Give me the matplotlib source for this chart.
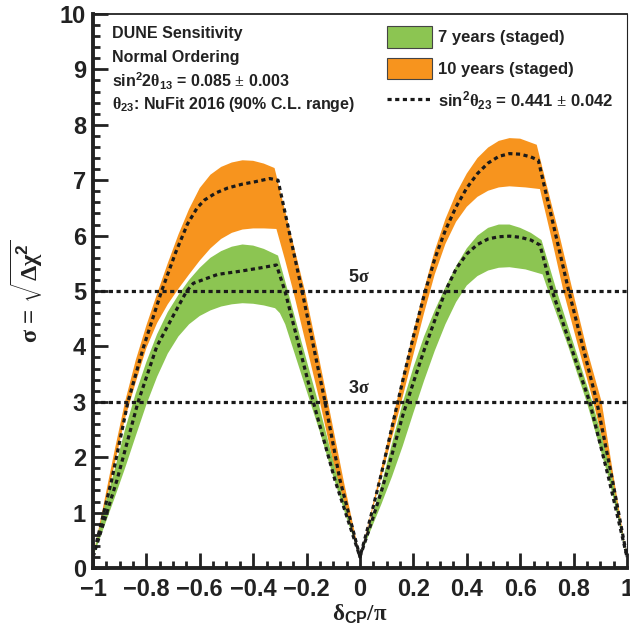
import matplotlib
matplotlib.use('Agg')
import matplotlib.pyplot as plt
from matplotlib.patches import Patch
from matplotlib.lines import Line2D
from matplotlib.ticker import MultipleLocator, FixedLocator

plt.rcParams['font.family'] = ['Liberation Sans', 'DejaVu Sans']
plt.rcParams['font.weight'] = 'bold'
plt.rcParams['mathtext.fontset'] = 'custom'
plt.rcParams['mathtext.rm'] = 'Liberation Sans:bold'
plt.rcParams['mathtext.bf'] = 'Liberation Sans:bold'
plt.rcParams['mathtext.it'] = 'Liberation Sans:bold'
plt.rcParams['mathtext.sf'] = 'Liberation Serif'
plt.rcParams['mathtext.default'] = 'rm'

# 10 years (staged): upper edge of band
x_10_hi = [-1.0, -0.96, -0.92, -0.88, -0.84, -0.80, -0.76, -0.72, -0.68, -0.64, -0.60, -0.56,
           -0.52, -0.48, -0.44, -0.40, -0.36, -0.32,
           -0.26, -0.206, -0.16, -0.12, -0.06, 0.0,
           0.04, 0.08, 0.12, 0.16, 0.20, 0.24, 0.28, 0.32, 0.36, 0.40, 0.44, 0.48, 0.52,
           0.56, 0.60, 0.662,
           0.70, 0.75, 0.797, 0.85, 0.905, 0.95, 1.0]
s_10_hi = [0.2, 1.15, 2.1, 3.0, 3.75, 4.38, 4.95, 5.5, 6.02, 6.48, 6.86, 7.1,
           7.24, 7.32, 7.36, 7.35, 7.3, 7.22,
           6.05, 5.0, 3.95, 3.0, 1.55, 0.2,
           0.98, 1.8, 2.64, 3.47, 4.27, 5.03, 5.73, 6.3, 6.76, 7.12, 7.4, 7.59, 7.71,
           7.76, 7.75, 7.64,
           6.9, 5.95, 5.0, 3.95, 3.0, 1.65, 0.2]
# 10 years (staged): lower edge of band
x_10_lo = [-1.0, -0.96, -0.92, -0.88, -0.84, -0.80, -0.76, -0.72, -0.68, -0.64, -0.60, -0.56,
           -0.52, -0.48, -0.44, -0.40, -0.36, -0.313,
           -0.28, -0.25, -0.20, -0.15, -0.10, -0.05, 0.0,
           0.05, 0.10, 0.15, 0.20, 0.24, 0.28, 0.32, 0.36, 0.40, 0.44, 0.48, 0.52, 0.56,
           0.62, 0.674,
           0.72, 0.762, 0.82, 0.874, 0.94, 1.0]
s_10_lo = [0.2, 1.0, 1.85, 2.7, 3.35, 3.97, 4.42, 4.76, 5.04, 5.3, 5.55, 5.77,
           5.94, 6.05, 6.11, 6.13, 6.13, 6.12,
           5.55, 5.0, 4.0, 3.0, 1.9, 0.95, 0.2,
           1.1, 2.0, 2.9, 3.85, 4.6, 5.3, 5.85, 6.25, 6.52, 6.7, 6.81, 6.87, 6.89,
           6.87, 6.84,
           5.9, 5.0, 3.95, 3.0, 1.65, 0.2]

# 7 years (staged): upper edge of band
x_7_hi = [-1.0, -0.96, -0.92, -0.88, -0.84, -0.80, -0.76, -0.72, -0.68, -0.64, -0.60, -0.56,
          -0.52, -0.48, -0.44, -0.40, -0.36, -0.307,
          -0.27, -0.22, -0.157, -0.082, 0.0,
          0.04, 0.08, 0.12, 0.16, 0.20, 0.24, 0.28, 0.32, 0.36, 0.40, 0.44, 0.48, 0.52,
          0.56, 0.60, 0.64, 0.68,
          0.737, 0.80, 0.87, 0.94, 1.0]
s_7_hi = [0.2, 1.05, 1.75, 2.5, 3.15, 3.72, 4.22, 4.62, 4.93, 5.2, 5.42, 5.6,
          5.72, 5.8, 5.84, 5.82, 5.76, 5.64,
          5.0, 4.1, 3.0, 1.59, 0.2,
          0.85, 1.5, 2.25, 2.98, 3.62, 4.18, 4.65, 5.07, 5.45, 5.77, 6.0, 6.14, 6.2,
          6.2, 6.14, 6.05, 5.92,
          5.0, 4.05, 3.0, 1.75, 0.2]
# 7 years (staged): lower edge of band
x_7_lo = [-1.0, -0.96, -0.92, -0.88, -0.84, -0.80, -0.76, -0.72, -0.68, -0.64, -0.60, -0.56,
          -0.52, -0.48, -0.44, -0.40, -0.36, -0.318,
          -0.30, -0.28, -0.25, -0.20, -0.15, -0.10, -0.05, 0.0,
          0.04, 0.08, 0.12, 0.16, 0.20, 0.24, 0.28, 0.32, 0.36, 0.40, 0.44, 0.48, 0.52,
          0.56, 0.62, 0.684,
          0.705, 0.78, 0.849, 0.93, 1.0]
s_7_lo = [0.2, 0.72, 1.25, 1.8, 2.38, 2.95, 3.45, 3.87, 4.18, 4.4, 4.55, 4.65,
          4.72, 4.76, 4.78, 4.77, 4.74, 4.69,
          4.6, 4.4, 3.95, 3.2, 2.45, 1.65, 0.9, 0.2,
          0.68, 1.15, 1.65, 2.2, 2.8, 3.38, 3.92, 4.4, 4.8, 5.1, 5.27, 5.37, 5.42,
          5.43, 5.39, 5.30,
          5.0, 4.0, 3.0, 1.65, 0.2]

# central value curves, sin^2(theta23) = 0.441
x_10_c = [-1.0, -0.93, -0.869, -0.81, -0.743, -0.69, -0.646, -0.61, -0.583, -0.54, -0.495,
          -0.44, -0.395, -0.338, -0.307,
          -0.217, -0.131, -0.075, 0.0,
          0.04, 0.08, 0.12, 0.16, 0.20, 0.24, 0.28, 0.32, 0.36, 0.40, 0.44, 0.48, 0.52,
          0.56, 0.60, 0.64, 0.668,
          0.782, 0.887, 0.945, 1.0]
s_10_c = [0.2, 1.59, 3.0, 4.0, 5.0, 5.7, 6.21, 6.5, 6.64, 6.77, 6.86,
          6.93, 6.97, 7.03, 7.0,
          5.0, 3.0, 1.59, 0.2,
          0.92, 1.7, 2.55, 3.38, 4.18, 4.92, 5.58, 6.1, 6.52, 6.86, 7.12, 7.31, 7.43,
          7.48, 7.47, 7.42, 7.36,
          5.0, 3.0, 1.6, 0.2]
x_7_c = [-1.0, -0.91, -0.831, -0.761, -0.70, -0.649, -0.624, -0.533, -0.445, -0.37, -0.313,
         -0.281, -0.175, -0.094, 0.0,
         0.04, 0.08, 0.12, 0.16, 0.20, 0.24, 0.28, 0.32, 0.36, 0.40, 0.44, 0.48, 0.52,
         0.56, 0.60, 0.64, 0.674,
         0.72, 0.79, 0.86, 0.93, 1.0]
s_7_c = [0.2, 1.59, 3.0, 4.0, 4.55, 5.0, 5.14, 5.30, 5.36, 5.42, 5.47,
         5.0, 3.0, 1.59, 0.2,
         0.78, 1.38, 2.05, 2.75, 3.35, 3.93, 4.47, 5.0, 5.4, 5.67, 5.84, 5.94, 5.98,
         5.99, 5.97, 5.92, 5.83,
         5.0, 4.0, 3.0, 1.65, 0.2]

sigma_levels = [3, 5]
xticks = [-1, -0.8, -0.6, -0.4, -0.2, 0, 0.2, 0.4, 0.6, 0.8, 1]
xtick_labels = ['\u22121', '\u22120.8', '\u22120.6', '\u22120.4', '\u22120.2', '0',
                '0.2', '0.4', '0.6', '0.8', '1']
yticks = list(range(0, 11))

green = '#8cc552'
orange = '#f7941e'
ink = '#1a1a1a'
dots = (0, (1.3, 1.1))

fig = plt.figure(figsize=(6.3, 6.31), dpi=100)
ax = fig.add_axes([0.1476, 0.0998, 0.8476, 0.878])

ax.fill(x_10_hi + x_10_lo[::-1], s_10_hi + s_10_lo[::-1], color=orange, lw=0)
ax.fill(x_7_hi + x_7_lo[::-1], s_7_hi + s_7_lo[::-1], color=green, lw=0)
ax.plot(x_10_c, s_10_c, color=ink, lw=2.3, ls=dots, dash_capstyle='butt')
ax.plot(x_7_c, s_7_c, color=ink, lw=2.3, ls=dots, dash_capstyle='butt')
for lev in sigma_levels:
    ax.axhline(lev, color=ink, lw=2.3, ls=dots, dash_capstyle='butt')
    ax.text(-0.045, lev + 0.16, '%d$\\mathsf{\\sigma}$' % lev, fontsize=13,
            color='#222222', ha='left', va='baseline')

ax.set_xlim(-1, 1)
ax.set_ylim(0, 10)
ax.xaxis.set_major_locator(FixedLocator(xticks))
ax.set_xticklabels(xtick_labels)
ax.xaxis.set_minor_locator(MultipleLocator(0.05))
ax.set_yticks(yticks)
ax.set_yticklabels([str(v) for v in yticks])
ax.yaxis.set_minor_locator(MultipleLocator(0.2))
ax.tick_params(which='both', direction='in', top=False, right=False, width=2.0, color='#222222')
ax.tick_params(which='major', length=11)
ax.tick_params(which='minor', length=5)
ax.tick_params(axis='x', labelsize=17, pad=7)
ax.tick_params(axis='y', labelsize=17, pad=5)
for lab in ax.get_xticklabels() + ax.get_yticklabels():
    lab.set_fontweight('bold')
    lab.set_color('#222222')

ax.spines['left'].set_linewidth(2.8)
ax.spines['bottom'].set_linewidth(2.8)
ax.spines['top'].set_linewidth(1.3)
ax.spines['right'].set_linewidth(0.8)
for sp in ax.spines.values():
    sp.set_color('#222222')

ax.set_ylabel('$\\mathsf{\\sigma}$ = $\\sqrt{\\mathsf{\\Delta\\chi}^{2}}$', fontsize=17.5,
              color='#222222')
ax.yaxis.set_label_coords(-0.09, 0.5)
ax.set_xlabel('$\\mathsf{\\delta}_{\\mathrm{CP}}\\mathsf{/\\pi}$', fontsize=16.5, color='#222222')
ax.xaxis.set_label_coords(0.5, -0.062)

info = ['DUNE Sensitivity',
        'Normal Ordering',
        'sin$^{2}$2$\\mathsf{\\theta}_{13}$ = 0.085 $\\mathsf{\\pm}$ 0.003',
        '$\\mathsf{\\theta}_{23}$: NuFit 2016 (90% C.L. range)']
for i, line in enumerate(info):
    ax.text(0.035, 0.964 - i * 0.0425, line, transform=ax.transAxes, fontsize=11.5,
            color='#222222', va='center', ha='left')

handles = [Patch(facecolor=green, edgecolor='#444444', lw=0.8),
           Patch(facecolor=orange, edgecolor='#444444', lw=0.8),
           Line2D([], [], color=ink, lw=2.3, ls=dots, dash_capstyle='butt')]
labels = ['7 years (staged)', '10 years (staged)',
          'sin$^{2}$$\\mathsf{\\theta}_{23}$ = 0.441 $\\mathsf{\\pm}$ 0.042']
leg = ax.legend(handles, labels, loc='upper left', bbox_to_anchor=(0.55, 0.978),
                frameon=False, borderpad=0, borderaxespad=0, handlelength=2.7,
                handleheight=1.6, handletextpad=0.35, labelspacing=0.62,
                prop={'size': 12, 'weight': 'bold'})
for t in leg.get_texts():
    t.set_color('#222222')

fig.savefig('out.png', dpi=100)
